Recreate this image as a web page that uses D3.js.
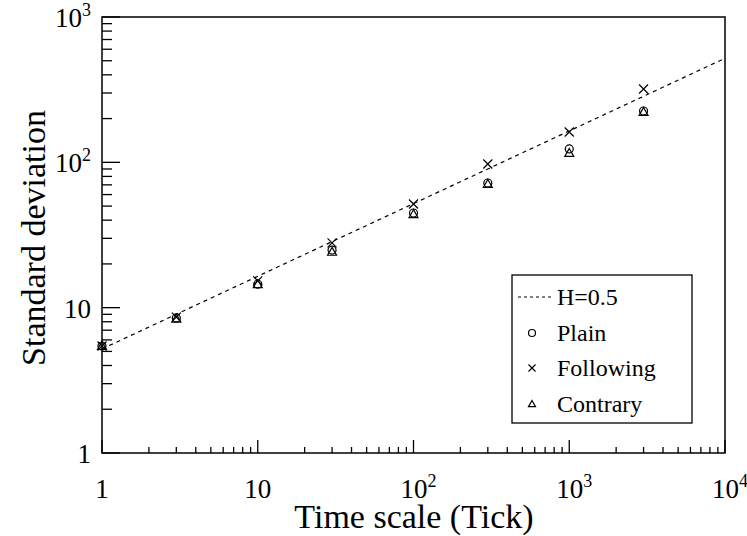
<!DOCTYPE html>
<html><head><meta charset="utf-8">
<script src="https://cdn.jsdelivr.net/npm/d3@7"></script>
<style>body{margin:0;background:#fff}svg{display:block}text{font-family:"Liberation Serif","DejaVu Serif","Noto Serif",serif}</style>
</head><body>
<svg id="c" width="747" height="536"></svg>
<script>
const timeScales = [1, 3, 10, 30, 100, 300, 1000, 3000];
const plainSD = [5.45, 8.5, 14.5, 24.9, 44.8, 72.1, 123.6, 225.6];
const followingSD = [5.45, 8.6, 15.3, 27.9, 51.7, 97.4, 161.8, 319.7];
const contrarySD = [5.45, 8.4, 14.5, 24.2, 44.0, 71.0, 116.0, 222.0];
const hurstH = 0.5;
const hurstC = 5.2;
const xTickExps = [0, 1, 2, 3, 4];
const yTickExps = [0, 1, 2, 3];
const legendLabels = ["H=0.5", "Plain", "Following", "Contrary"];

const svg = d3.select("#c");
const L = 102, R = 725, T = 17, B = 453;
const x = d3.scaleLog().domain([1, 1e4]).range([L, R]);
const y = d3.scaleLog().domain([1, 1e3]).range([B, T]);

function ticksFor(exps) {
  const out = [];
  for (let i = 0; i < exps.length; i++) {
    const base = Math.pow(10, exps[i]);
    out.push({v: base, major: true});
    if (i < exps.length - 1) for (let k = 2; k <= 9; k++) out.push({v: base * k, major: false});
  }
  return out;
}
const g = svg.append("g");
ticksFor(xTickExps).forEach(t => {
  const len = t.major ? 13 : 6;
  g.append("line").attr("x1", x(t.v)).attr("x2", x(t.v)).attr("y1", B).attr("y2", B - len)
    .attr("stroke", "#000").attr("stroke-width", 1.3);
});
ticksFor(yTickExps).forEach(t => {
  const len = t.major ? 18 : 10;
  g.append("line").attr("y1", y(t.v)).attr("y2", y(t.v)).attr("x1", L).attr("x2", L + len)
    .attr("stroke", "#000").attr("stroke-width", 1.3);
});
svg.append("rect").attr("x", L).attr("y", T).attr("width", R - L).attr("height", B - T)
  .attr("fill", "none").attr("stroke", "#000").attr("stroke-width", 1.5);

function powLabel(sel, e) {
  if (e === 0) sel.text("1");
  else if (e === 1) sel.text("10");
  else {
    sel.append("tspan").text("10");
    sel.append("tspan").attr("dy", -11).attr("font-size", 18).text(e);
  }
}
xTickExps.forEach(e => {
  const t = svg.append("text").attr("x", x(Math.pow(10, e)) + (e >= 2 ? 5 : 0)).attr("y", 498)
    .attr("text-anchor", "middle").attr("font-size", 27);
  powLabel(t, e);
});
yTickExps.forEach(e => {
  const t = svg.append("text").attr("x", 91).attr("y", y(Math.pow(10, e)) + 10)
    .attr("text-anchor", "end").attr("font-size", 27);
  powLabel(t, e);
});

svg.append("text").attr("x", 414).attr("y", 528).attr("text-anchor", "middle")
  .attr("font-size", 34).text("Time scale (Tick)");
svg.append("text").attr("transform", "translate(45," + ((T + B) / 2 + 3) + ") rotate(-90)")
  .attr("text-anchor", "middle").attr("font-size", 34).text("Standard deviation");

svg.append("clipPath").attr("id", "pc").append("rect").attr("x", L).attr("y", T).attr("width", R - L).attr("height", B - T);
const p = svg.append("g").attr("clip-path", "url(#pc)");

const lx = [1, 1e4];
p.append("path").attr("d", d3.line().x(d => x(d)).y(d => y(hurstC * Math.pow(d, hurstH)))(lx))
  .attr("stroke", "#000").attr("stroke-width", 1.2).attr("stroke-dasharray", "4,4").attr("fill", "none");

function circle(sel, cx, cy, r) {
  sel.append("circle").attr("cx", cx).attr("cy", cy).attr("r", r).attr("fill", "none").attr("stroke", "#000").attr("stroke-width", 1.2);
}
function cross(sel, cx, cy, s) {
  sel.append("path").attr("d", `M${cx - s},${cy - s}L${cx + s},${cy + s}M${cx - s},${cy + s}L${cx + s},${cy - s}`)
    .attr("stroke", "#000").attr("stroke-width", 1.2).attr("fill", "none");
}
function tri(sel, cx, cy, s) {
  sel.append("path").attr("d", `M${cx},${cy - s}L${cx + s},${cy + s * 0.75}L${cx - s},${cy + s * 0.75}Z`)
    .attr("stroke", "#000").attr("stroke-width", 1.2).attr("fill", "none");
}
const m = svg.append("g");
timeScales.forEach((t, i) => {
  circle(m, x(t), y(plainSD[i]), 4);
  cross(m, x(t), y(followingSD[i]), 4.5);
  tri(m, x(t), y(contrarySD[i]), 4.5);
});

const lg = svg.append("g");
lg.append("rect").attr("x", 512).attr("y", 275).attr("width", 180).attr("height", 148)
  .attr("fill", "#fff").attr("stroke", "#000").attr("stroke-width", 1.3);
const ly = [297, 333, 368, 404];
lg.append("line").attr("x1", 518).attr("x2", 551).attr("y1", ly[0]).attr("y2", ly[0])
  .attr("stroke", "#000").attr("stroke-width", 1).attr("stroke-dasharray", "3,3");
circle(lg, 532, ly[1], 3.5);
cross(lg, 532, ly[2], 3.5);
tri(lg, 532, ly[3], 3.5);
legendLabels.forEach((s, i) => {
  lg.append("text").attr("x", 557).attr("y", ly[i] + 8).attr("font-size", 24).text(s);
});
</script>
</body></html>
